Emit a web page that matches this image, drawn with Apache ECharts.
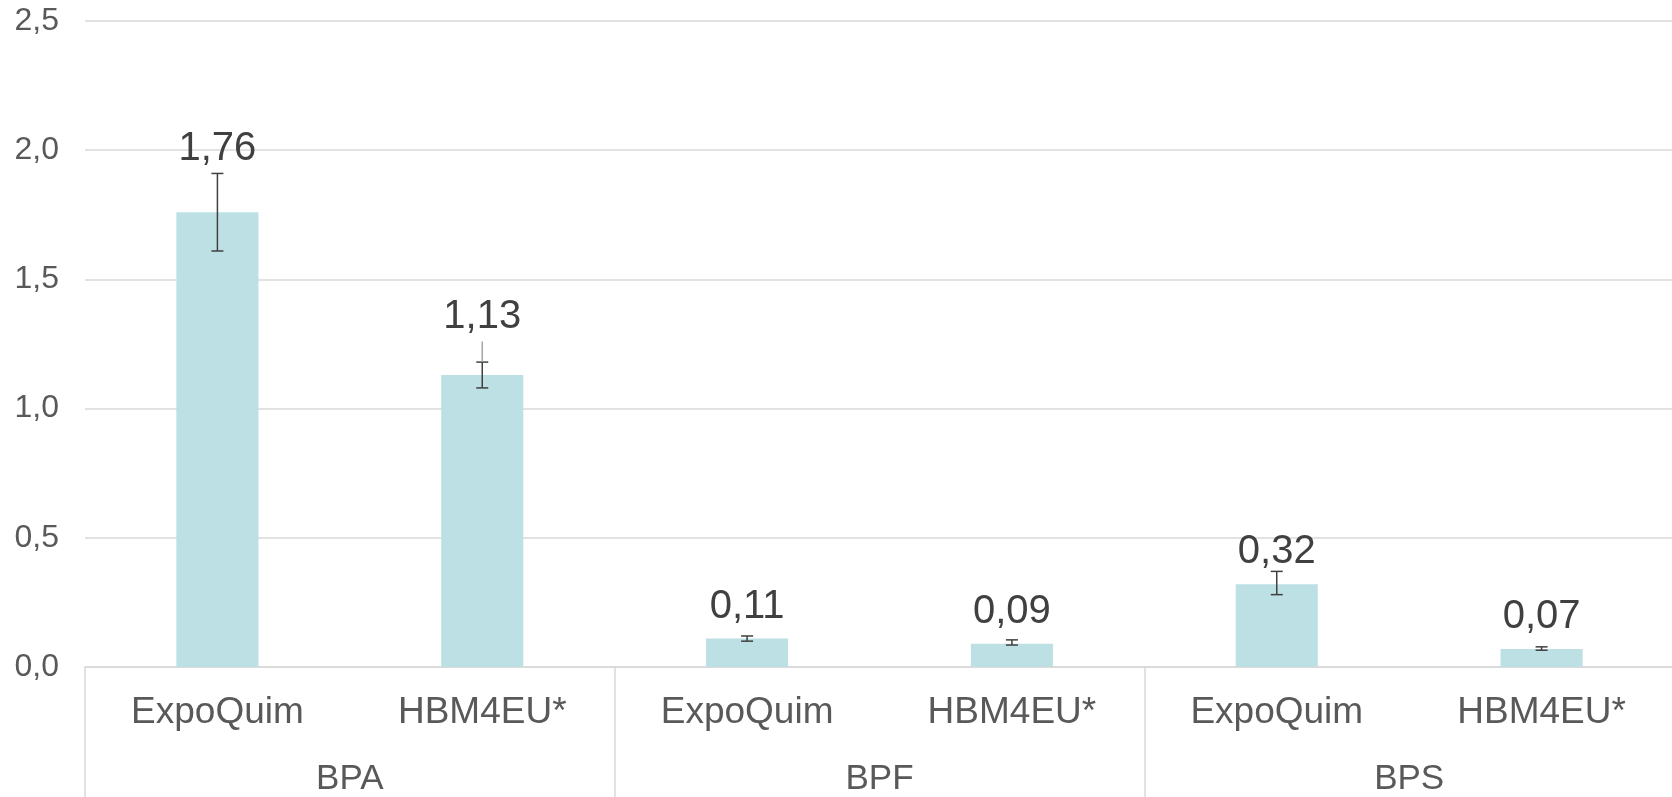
<!DOCTYPE html>
<html>
<head>
<meta charset="utf-8">
<script src="https://cdn.jsdelivr.net/npm/echarts@6/dist/echarts.min.js"></script>
<style>
html,body{margin:0;padding:0;background:#fff;}
#chart{width:1672px;height:797px;}
</style>
</head>
<body>
<div id="chart"></div>
<script>
// ---- data ----
const subCategories = ['ExpoQuim', 'HBM4EU*', 'ExpoQuim', 'HBM4EU*', 'ExpoQuim', 'HBM4EU*'];
const groups = ['BPA', 'BPF', 'BPS'];
const values = [1.76, 1.13, 0.11, 0.09, 0.32, 0.07];
const errLow = [1.61, 1.08, 0.10, 0.085, 0.28, 0.065];
const errHigh = [1.91, 1.18, 0.12, 0.105, 0.37, 0.078];
const faintHigh = [null, 1.26, null, null, null, null];
const labelDistances = [43, 38, 12, 12, 12, 12];
const yTicks = [0, 0.5, 1.0, 1.5, 2.0, 2.5];

const FONT = '"Liberation Sans", Arial, sans-serif';
const comma = v => v.toString().replace('.', ',');

const chart = echarts.init(document.getElementById('chart'), null, {renderer: 'canvas'});

const barData = values.map((v, i) => ({
  value: v,
  label: {distance: labelDistances[i]}
}));

const errData = values.map((v, i) => [i, errLow[i], errHigh[i], faintHigh[i]]);

chart.setOption({
  animation: false,
  backgroundColor: '#ffffff',
  grid: {left: 85, width: 1589, top: 21, bottom: 130, containLabel: false, outerBoundsMode: 'none'},
  xAxis: [
    {
      type: 'category',
      data: subCategories,
      position: 'bottom',
      axisLine: {show: true, lineStyle: {color: '#D9D9D9', width: 1.5}},
      axisTick: {show: false},
      axisLabel: {color: '#595959', fontSize: 37, fontFamily: FONT, margin: 27, interval: 0}
    },
    {
      type: 'category',
      data: groups,
      position: 'bottom',
      offset: 0,
      axisLine: {show: false},
      axisTick: {show: true, inside: false, length: 135, interval: 0, lineStyle: {color: '#D9D9D9', width: 1.5}},
      axisLabel: {color: '#595959', fontSize: 35, fontFamily: FONT, margin: 95, interval: 0},
      splitLine: {show: false}
    }
  ],
  yAxis: {
    type: 'value',
    min: yTicks[0],
    max: yTicks[yTicks.length - 1],
    interval: 0.5,
    axisLine: {show: false},
    axisTick: {show: false},
    splitLine: {lineStyle: {color: '#D9D9D9', width: 1.5}},
    axisLabel: {
      color: '#595959', fontSize: 32, fontFamily: FONT, margin: 26,
      formatter: v => v.toFixed(1).replace('.', ',')
    }
  },
  series: [
    {
      type: 'bar',
      xAxisIndex: 0,
      data: barData,
      barWidth: '31%',
      itemStyle: {color: '#BCE0E3'},
      label: {
        show: true,
        position: 'top',
        color: '#404040',
        fontSize: 40,
        fontFamily: FONT,
        formatter: p => comma(p.value.toFixed(2))
      },
      z: 2
    },
    {
      type: 'custom',
      xAxisIndex: 0,
      data: errData,
      z: 5,
      renderItem: function (params, api) {
        const x = api.value(0);
        const lo = api.coord([x, api.value(1)]);
        const hi = api.coord([x, api.value(2)]);
        const cap = 6;
        const st = {stroke: '#404040', lineWidth: 1.5};
        const children = [
          {type: 'line', shape: {x1: lo[0], y1: lo[1], x2: hi[0], y2: hi[1]}, style: st},
          {type: 'line', shape: {x1: lo[0] - cap, y1: lo[1], x2: lo[0] + cap, y2: lo[1]}, style: st},
          {type: 'line', shape: {x1: hi[0] - cap, y1: hi[1], x2: hi[0] + cap, y2: hi[1]}, style: st}
        ];
        const f = api.value(3);
        if (f != null && !isNaN(f)) {
          const fc = api.coord([x, f]);
          children.push({type: 'line', shape: {x1: hi[0], y1: hi[1], x2: fc[0], y2: fc[1]},
            style: {stroke: '#A6A6A6', lineWidth: 1.5}});
        }
        return {type: 'group', children: children};
      }
    }
  ]
});
</script>
</body>
</html>
